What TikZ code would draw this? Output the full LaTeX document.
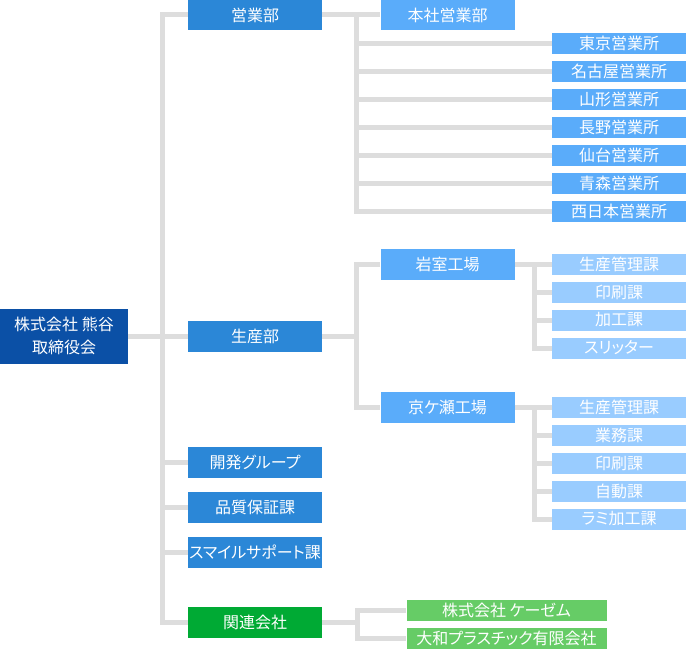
\documentclass[tikz,border=0pt]{standalone}
\usepackage{fontspec}
\setmainfont[RawFeature=+palt]{Noto Sans CJK JP}
\usetikzlibrary{positioning}
\definecolor{rootblue}{RGB}{11,80,166}
\definecolor{deptblue}{RGB}{43,135,215}
\definecolor{siteblue}{RGB}{90,172,250}
\definecolor{secblue}{RGB}{153,204,255}
\definecolor{groupgreen}{RGB}{0,170,52}
\definecolor{affilgreen}{RGB}{102,204,102}
\definecolor{linegray}{RGB}{221,221,221}

\begin{document}
\begin{tikzpicture}[x=1pt, y=-1pt, node distance=28pt]
    \tikzstyle{box} = [rectangle, text=white, inner sep=0pt, minimum width=134pt, font=\fontsize{16}{23.5}\selectfont]
    \tikzstyle{rootbox} = [box, fill=rootblue, minimum width=128pt, minimum height=55pt, align=center]
    \tikzstyle{dept} = [box, fill=deptblue, minimum height=31pt]
    \tikzstyle{site} = [box, fill=siteblue, minimum height=31pt]
    \tikzstyle{office} = [box, fill=siteblue, minimum height=21pt]
    \tikzstyle{section} = [box, fill=secblue, minimum height=21pt]
    \tikzstyle{groupbox} = [box, fill=groupgreen, minimum height=31pt]
    \tikzstyle{affil} = [box, fill=affilgreen, minimum width=200pt, minimum height=21pt]
    \tikzstyle{link} = [draw=linegray, line width=5pt]
    \useasboundingbox (0,0) rectangle (686,650);
    % board and departments
    \node (root) [rootbox] at (64,336) {株式会社 熊谷\\取締役会};
    \node (eigyo) [dept] at (255,15) {営業部};
    \node (seisan) [dept] at (255,336) {生産部};
    \node (kaihatsu) [dept] at (255,462.5) {開発グループ};
    \node (hinshitsu) [dept, below of=kaihatsu, node distance=45pt] {品質保証課};
    \node (smile) [dept, below of=hinshitsu, node distance=45pt] {スマイルサポート課};
    \node (kanren) [groupbox] at (255,622.5) {関連会社};
    % sales
    \node (honsha) [site] at (447.5,15) {本社営業部};
    \node (tokyo) [office] at (619,43.5) {東京営業所};
    \node (nagoya) [office, below of=tokyo] {名古屋営業所};
    \node (yamagata) [office, below of=nagoya] {山形営業所};
    \node (nagano) [office, below of=yamagata] {長野営業所};
    \node (sendai) [office, below of=nagano] {仙台営業所};
    \node (aomori) [office, below of=sendai] {青森営業所};
    \node (nishinihon) [office, below of=aomori] {西日本営業所};
    % production
    \node (iwamuro) [site] at (447.5,264) {岩室工場};
    \node (iseikan) [section] at (619,264) {生産管理課};
    \node (iinsatsu) [section, below of=iseikan] {印刷課};
    \node (ikako) [section, below of=iinsatsu] {加工課};
    \node (islitter) [section, below of=ikako] {スリッター};
    \node (kyogase) [site] at (447.5,407) {京ケ瀬工場};
    \node (kseikan) [section] at (619,407) {生産管理課};
    \node (kgyomu) [section, below of=kseikan] {業務課};
    \node (kinsatsu) [section, below of=kgyomu] {印刷課};
    \node (kjido) [section, below of=kinsatsu] {自動課};
    \node (krami) [section, below of=kjido] {ラミ加工課};
    % affiliates
    \node (kz) [affil] at (506.5,610) {株式会社 ケーゼム};
    \node (yamato) [affil, below of=kz] {大和プラスチック有限会社};
    % connectors
    \coordinate (trunk) at (162.5,336);
    \coordinate (ebus) at (356.5,15);
    \coordinate (sbus) at (356.5,336);
    \coordinate (ibus) at (534,264);
    \coordinate (kbus) at (534,407);
    \coordinate (gbus) at (357,622.5);
    \draw [link] (eigyo.west) -| (trunk) |- (kanren.west);
    \draw [link] (root) -- (seisan);
    \foreach \d in {kaihatsu, hinshitsu, smile}
        \draw [link] (\d.west) -- (\d.west -| trunk);
    \draw [link] (eigyo) -- (honsha);
    \draw [link] (ebus) |- (nishinihon.west);
    \foreach \o in {tokyo, nagoya, yamagata, nagano, sendai, aomori}
        \draw [link] (\o.west) -- (\o.west -| ebus);
    \draw [link] (seisan) -- (sbus);
    \draw [link] (iwamuro.west) -| (sbus) |- (kyogase.west);
    \draw [link] (iwamuro) -- (iseikan);
    \draw [link] (ibus) |- (islitter.west);
    \foreach \s in {iinsatsu, ikako}
        \draw [link] (\s.west) -- (\s.west -| ibus);
    \draw [link] (kyogase) -- (kseikan);
    \draw [link] (kbus) |- (krami.west);
    \foreach \s in {kgyomu, kinsatsu, kjido}
        \draw [link] (\s.west) -- (\s.west -| kbus);
    \draw [link] (kanren) -- (gbus);
    \draw [link] (kz.west) -| (gbus) |- (yamato.west);
\end{tikzpicture}
\end{document}
